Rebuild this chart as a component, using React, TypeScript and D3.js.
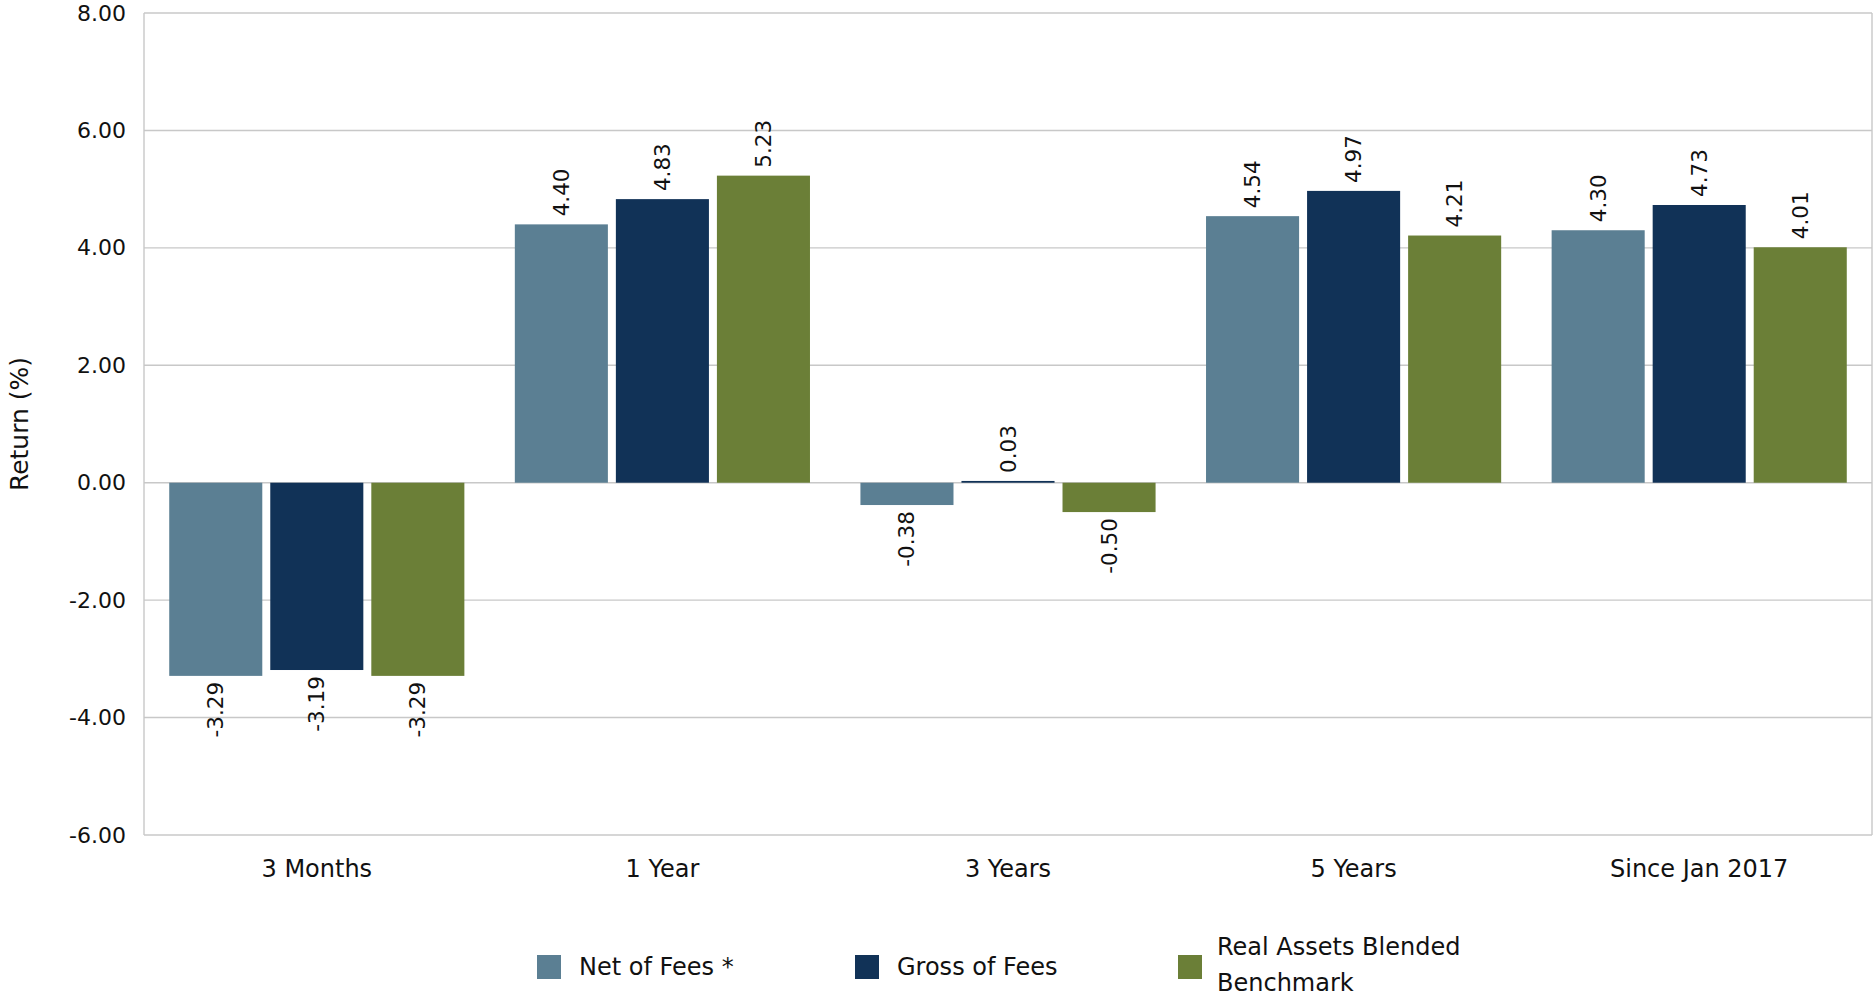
import React from "react";
import * as d3 from "d3";

const categories = ["3 Months", "1 Year", "3 Years", "5 Years", "Since Jan 2017"];
const seriesNames = ["Net of Fees *", "Gross of Fees", "Real Assets Blended Benchmark"];
const netOfFees = [-3.29, 4.4, -0.38, 4.54, 4.3];
const grossOfFees = [-3.19, 4.83, 0.03, 4.97, 4.73];
const benchmark = [-3.29, 5.23, -0.5, 4.21, 4.01];
const yTicks = [-6, -4, -2, 0, 2, 4, 6, 8];
const colors = ["#5B7F93", "#113257", "#6B7F37"];

const W = 1873;
const H = 998;
const FONT = "'DejaVu Sans', sans-serif";
const fmt = (v: number) => d3.format(".2f")(v).replace("\u2212", "-");

export default function App() {
  const left = 144, right = 1872, top = 13, bottom = 835;
  const y = d3.scaleLinear().domain([-6, 8]).range([bottom, top]);
  const x0 = d3.scaleBand<string>().domain(categories).range([left, right]).paddingInner(0.146).paddingOuter(0.073);
  const x1 = d3.scaleBand<string>().domain(seriesNames).range([0, x0.bandwidth()]).paddingInner(0.079).paddingOuter(0);
  const seriesValues = [netOfFees, grossOfFees, benchmark];

  const legendX = [537, 855, 1178];

  return (
    <svg width={W} height={H} style={{ position: "absolute", left: 0, top: 0, display: "block", background: "#fff" }} fontFamily={FONT}>
      {yTicks.map((t) => (
        <line key={"g" + t} x1={left} x2={right} y1={y(t)} y2={y(t)} stroke="#C8C8C8" strokeWidth={1.4} />
      ))}
      <line x1={left} x2={left} y1={top} y2={bottom} stroke="#C8C8C8" strokeWidth={1.4} />
      <line x1={right} x2={right} y1={top} y2={bottom} stroke="#C8C8C8" strokeWidth={1.4} />
      {yTicks.map((t) => (
        <text key={"t" + t} x={126} y={y(t)} textAnchor="end" dominantBaseline="central" fontSize={22} fill="#111">
          {fmt(t)}
        </text>
      ))}
      <text transform={`translate(19,${(top + bottom) / 2}) rotate(-90)`} textAnchor="middle" dominantBaseline="central" fontSize={25} fill="#111">
        Return (%)
      </text>
      {categories.map((c, ci) => (
        <g key={c} transform={`translate(${x0(c)},0)`}>
          {seriesNames.map((s, si) => {
            const v = seriesValues[si][ci];
            const yTop = y(Math.max(0, v));
            const yBot = y(Math.min(0, v));
            const bx = x1(s)!;
            const bw = x1.bandwidth();
            const cx = bx + bw / 2;
            const ly = v >= 0 ? yTop - 8 : yBot + 6;
            return (
              <g key={s}>
                <rect x={bx} y={yTop} width={bw} height={Math.max(1.5, yBot - yTop)} fill={colors[si]} />
                <text
                  transform={`translate(${cx},${ly}) rotate(-90)`}
                  textAnchor={v >= 0 ? "start" : "end"}
                  dominantBaseline="central"
                  fontSize={21.5}
                  fill="#111"
                >
                  {fmt(v)}
                </text>
              </g>
            );
          })}
        </g>
      ))}
      {categories.map((c) => (
        <text key={"c" + c} x={x0(c)! + x0.bandwidth() / 2} y={877} textAnchor="middle" fontSize={24} fill="#111">
          {c}
        </text>
      ))}
      {seriesNames.map((s, i) => (
        <g key={"l" + s}>
          <rect x={legendX[i]} y={955} width={24} height={24} fill={colors[i]} />
          {i < 2 ? (
            <text x={legendX[i] + 42} y={975} fontSize={24} fill="#111">
              {s}
            </text>
          ) : (
            <text x={legendX[i] + 39} y={955} fontSize={24} fill="#111">
              <tspan x={legendX[i] + 39} y={955}>Real Assets Blended</tspan>
              <tspan x={legendX[i] + 39} y={991}>Benchmark</tspan>
            </text>
          )}
        </g>
      ))}
    </svg>
  );
}
